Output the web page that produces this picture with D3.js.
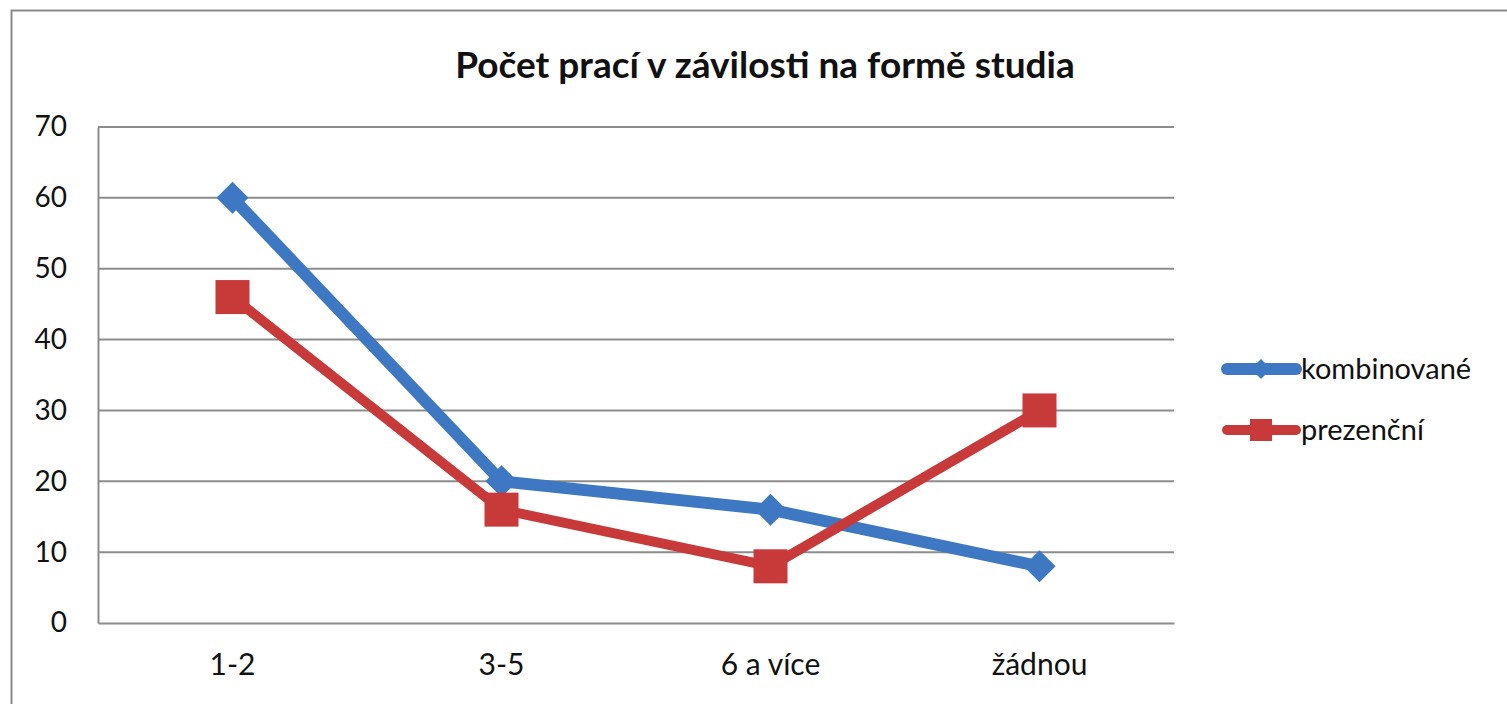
<!DOCTYPE html>
<html>
<head>
<meta charset="utf-8">
<script src="https://cdn.jsdelivr.net/npm/d3@7"></script>
<style>
  html, body { margin: 0; padding: 0; background: #fff; }
  svg { display: block; }
  text { font-family: Lato, "Open Sans", sans-serif; fill: #111; }
</style>
</head>
<body>
<svg id="chart" width="1507" height="704"></svg>
<script>
// Chart data
const categories = ["1-2", "3-5", "6 a více", "žádnou"];
const kombinovane = [60, 20, 16, 8];
const prezencni = [46, 16, 8, 30];
const yTicks = [0, 10, 20, 30, 40, 50, 60, 70];
const title = "Počet prací v závilosti na formě studia";
const seriesNames = ["kombinované", "prezenční"];

const series = [
  { name: seriesNames[0], values: kombinovane, color: "#3e78c2", width: 12, marker: "diamond" },
  { name: seriesNames[1], values: prezencni, color: "#c8393a", width: 10, marker: "square" }
];

const svg = d3.select("#chart");
const plot = { left: 98, right: 1174, top: 127, bottom: 623 };
const fontStack = "Lato, 'Open Sans', sans-serif";

// Outer frame
svg.append("path")
  .attr("d", "M11.5,704 L11.5,10.5 L1507,10.5")
  .attr("fill", "none")
  .attr("stroke", "#8a8a8a")
  .attr("stroke-width", 2);

const x = d3.scaleBand().domain(categories).range([plot.left, plot.right]);
const y = d3.scaleLinear().domain([0, 70]).range([plot.bottom, plot.top]);

// Horizontal gridlines
svg.append("g").selectAll("line").data(yTicks.filter(d => d > 0)).join("line")
  .attr("x1", plot.left).attr("x2", plot.right)
  .attr("y1", d => y(d)).attr("y2", d => y(d))
  .attr("stroke", "#8c8c8c").attr("stroke-width", 2);

// Y axis
const yAxis = svg.append("g")
  .attr("transform", `translate(${plot.left},0)`)
  .call(d3.axisLeft(y).tickValues(yTicks).tickSize(0).tickPadding(31));
yAxis.select(".domain").attr("stroke", "#8c8c8c").attr("stroke-width", 2);
yAxis.selectAll("text").attr("font-size", 28).attr("fill", "#111")
  .style("font-family", fontStack);

// X axis
const xAxis = svg.append("g")
  .attr("transform", `translate(0,${plot.bottom})`)
  .call(d3.axisBottom(x).tickSize(0).tickPadding(31));
xAxis.select(".domain").attr("stroke", "#8c8c8c").attr("stroke-width", 2);
xAxis.selectAll("text").attr("font-size", 30).attr("fill", "#111")
  .style("font-family", fontStack);

// Title
svg.append("text")
  .attr("x", 765).attr("y", 78)
  .attr("text-anchor", "middle")
  .attr("font-size", 37).attr("font-weight", "bold")
  .text(title);

const cx = (d, i) => x(categories[i]) + x.bandwidth() / 2;
const line = d3.line().x(cx).y(d => y(d));

function drawMarker(g, type, color, px, py, size) {
  if (type === "diamond") {
    const r = size / 2;
    g.append("path")
      .attr("d", `M${px},${py - r} L${px + r},${py} L${px},${py + r} L${px - r},${py} Z`)
      .attr("fill", color);
  } else {
    g.append("rect")
      .attr("x", px - size / 2).attr("y", py - size / 2)
      .attr("width", size).attr("height", size)
      .attr("fill", color);
  }
}

// Series lines and markers
series.forEach(s => {
  const g = svg.append("g");
  g.append("path")
    .datum(s.values)
    .attr("d", line)
    .attr("fill", "none")
    .attr("stroke", s.color)
    .attr("stroke-width", s.width)
    .attr("stroke-linejoin", "round")
    .attr("stroke-linecap", "round");
  s.values.forEach((v, i) => {
    drawMarker(g, s.marker, s.color, cx(v, i), y(v), s.marker === "diamond" ? 32 : 34);
  });
});

// Legend
const legendY = [369, 430];
series.forEach((s, i) => {
  const g = svg.append("g");
  g.append("line")
    .attr("x1", 1227).attr("x2", 1296)
    .attr("y1", legendY[i]).attr("y2", legendY[i])
    .attr("stroke", s.color).attr("stroke-width", s.width)
    .attr("stroke-linecap", "round");
  drawMarker(g, s.marker, s.color, 1261, legendY[i], s.marker === "diamond" ? 20 : 22);
  g.append("text")
    .attr("x", 1301).attr("y", legendY[i])
    .attr("dy", "0.35em")
    .attr("font-size", 29)
    .text(s.name);
});
</script>
</body>
</html>
